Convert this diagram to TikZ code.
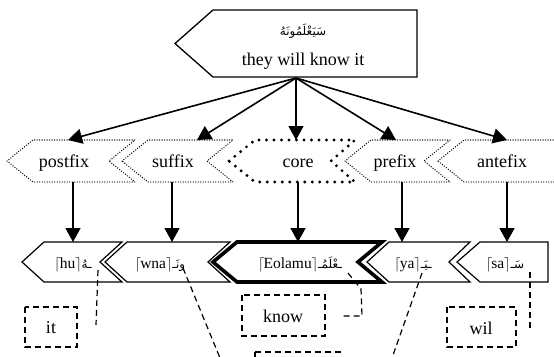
\documentclass[tikz,border=0pt]{standalone}
\usepackage{fontspec}
\setmainfont{Liberation Serif}
\newfontfamily\arabicfont[Script=Arabic]{DejaVu Sans}
\TeXXeTstate=1
\usetikzlibrary{arrows.meta}
\newcommand\artxt[1]{{\arabicfont\fontsize{12}{14}\selectfont\beginR #1\endR}}
\newcommand\lcb{$\lceil$\kern-1pt}
\newcommand\rcb{$\rceil$}
\begin{document}
\begin{tikzpicture}[x=1pt,y=-1pt,
  lbl/.style={font=\fontsize{18}{20}\selectfont, inner sep=0pt, anchor=base},
  lbltwo/.style={font=\fontsize{15.5}{18}\selectfont, inner sep=0pt, anchor=base},
  thinshape/.style={line width=1.2pt, line join=miter},
  thickshape/.style={line width=3.6pt, line join=miter},
  dotshape/.style={line width=1.4pt, line cap=round, dash pattern=on 0pt off 2.5pt},
  coreshape/.style={line width=3.2pt, line cap=round, dash pattern=on 0pt off 7.5pt},
  arr/.style={line width=1.6pt, -{Triangle[length=14pt,width=15pt]}},
  glossbox/.style={draw, line width=1.2pt, dash pattern=on 6pt off 4pt},
  leader/.style={line width=1.2pt, dash pattern=on 6pt off 4pt},
]
\useasboundingbox (0,0) rectangle (554,356);
\clip (0,0) rectangle (554,356);

% top box
\draw[line width=1.3pt, line join=miter] (175,43.5) -- (213,10) -- (417,10) -- (417,77) -- (213,77) -- cycle;
\node[inner sep=0pt, anchor=base] (topar) at (303,35) {\artxt{سَيَعْلَمُونَهُ}};
\node[lbl] (topen) at (303,65) {they will know it};

% middle row
\draw[dotshape] (7,161) -- (33,140) -- (135,140) -- (109,161) -- (135,182) -- (33,182) -- cycle;
\draw[dotshape] (122,161) -- (148,140) -- (233,140) -- (207,161) -- (233,182) -- (148,182) -- cycle;
\draw[coreshape] (229,161) -- (255,140) -- (355,140) -- (331,161) -- (355,182) -- (255,182) -- cycle;
\draw[dotshape] (345,161) -- (371,140) -- (450,140) -- (424,161) -- (450,182) -- (371,182) -- cycle;
\draw[dotshape] (438,161) -- (464,140) -- (600,140) -- (574,161) -- (600,182) -- (464,182) -- cycle;
\node[lbl] (postfix) at (64,167) {postfix};
\node[lbl] (suffix) at (173,167) {suffix};
\node[lbl] (core) at (298,167) {core};
\node[lbl] (prefix) at (395,167) {prefix};
\node[lbl] (antefix) at (502,167) {antefix};

% arrows top -> middle
\coordinate (src) at (296,78);
\coordinate (postfix-t) at (68,140);
\coordinate (suffix-t) at (197,140);
\coordinate (core-t) at (296,140);
\coordinate (prefix-t) at (396,140);
\coordinate (antefix-t) at (507,140);
\foreach \n in {postfix,suffix,core,prefix,antefix} \draw[arr] (src) -- (\n-t);

% bottom row
\draw[thinshape] (22,262) -- (44,242) -- (122,242) -- (100,262) -- (122,282) -- (44,282) -- cycle;
\draw[thinshape] (105,262) -- (127,242) -- (230,242) -- (208,262) -- (230,282) -- (127,282) -- cycle;
\draw[thickshape] (213,262) -- (237,242) -- (382,242) -- (358,262) -- (382,282) -- (237,282) -- cycle;
\draw[thinshape] (367,262) -- (389,242) -- (470,242) -- (449,262) -- (470,282) -- (389,282) -- cycle;
\draw[thinshape] (457,262) -- (480,242) -- (548,242) -- (548,282) -- (480,282) -- cycle;
\node[lbltwo] (hu) at (73,268) {\lcb hu\rcb\artxt{ـهُ}};
\node[lbltwo] (wna) at (160,268) {\lcb wna\rcb\artxt{ونَـ}};
\node[lbltwo] (eolamu) at (300,268) {\lcb Eolamu\rcb\artxt{ـعْلَمُـ}};
\node[lbltwo] (ya) at (413,268) {\lcb ya\rcb\artxt{ـيَـ}};
\node[lbltwo] (sa) at (505,268) {\lcb sa\rcb\artxt{سَـ}};

% arrows middle -> bottom
\coordinate (postfix-s) at (73,182);   \coordinate (hu-n) at (73,242);
\coordinate (suffix-s) at (172,182);   \coordinate (wna-n) at (172,242);
\coordinate (core-s) at (298,182);     \coordinate (eolamu-n) at (298,242);
\coordinate (prefix-s) at (402,182);   \coordinate (ya-n) at (402,242);
\coordinate (antefix-s) at (507,182);  \coordinate (sa-n) at (507,242);
\draw[arr] (postfix-s) -- (hu-n);
\draw[arr] (suffix-s) -- (wna-n);
\draw[arr] (core-s) -- (eolamu-n);
\draw[arr] (prefix-s) -- (ya-n);
\draw[arr] (antefix-s) -- (sa-n);

% glosses
\draw[glossbox] (25,307) rectangle (77,347);
\node[lbl] (it) at (51,333) {it};
\draw[glossbox] (242,295) rectangle (325,336);
\node[lbl] (know) at (283,322) {know};
\draw[glossbox] (447,307) rectangle (516,347);
\node[lbl] (wil) at (481,334) {wil};
\draw[glossbox] (255,352) rectangle (340,395);

% leaders
\coordinate (hu-a) at (98,270);   \coordinate (hu-e) at (96,325);
\draw[leader] (hu-a) -- (hu-e);
\coordinate (wna-a) at (183,268); \coordinate (wna-e) at (220,358);
\draw[leader] (wna-a) -- (wna-e);
\coordinate (eo-a) at (348,273);  \coordinate (eo-b) at (361,289);
\coordinate (eo-c) at (362,316);  \coordinate (eo-e) at (340,316);
\draw[leader] (eo-a) -- (eo-b) -- (eo-c) -- (eo-e);
\coordinate (ya-a) at (422,273);  \coordinate (ya-e) at (392,358);
\draw[leader] (ya-a) -- (ya-e);
\coordinate (sa-a) at (530,272);  \coordinate (sa-e) at (530,328);
\draw[leader] (sa-a) -- (sa-e);
\end{tikzpicture}
\end{document}
